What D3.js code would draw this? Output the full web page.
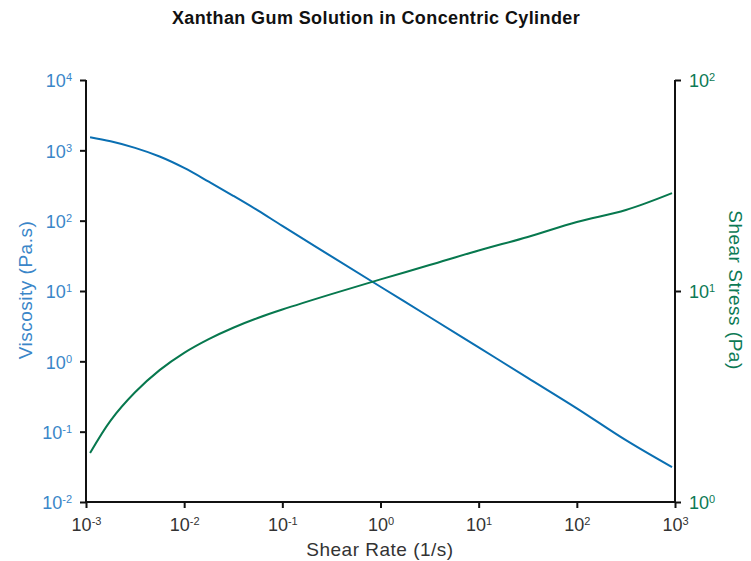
<!DOCTYPE html>
<html><head><meta charset="utf-8">
<script src="https://cdn.jsdelivr.net/npm/d3@7"></script>
<style>body{margin:0;background:#fff}svg{display:block}</style>
</head><body>
<script>
const shearRate = [0.0011, 0.00178, 0.00316, 0.00562, 0.01, 0.0178, 0.0316, 0.0562, 0.1, 0.316, 1, 3.16, 10, 31.6, 100, 316, 933];
const viscosity = [1538, 1343, 1084, 817, 562, 359, 226, 140, 84.1, 31.0, 11.5, 4.27, 1.58, 0.583, 0.215, 0.0757, 0.0313];
const shearStress = [1.706, 2.432, 3.311, 4.217, 5.093, 5.916, 6.699, 7.447, 8.166, 9.661, 11.35, 13.27, 15.56, 18.03, 21.23, 24.21, 29.11];
const xTicks = [-3, -2, -1, 0, 1, 2, 3];
const yLeftTicks = [4, 3, 2, 1, 0, -1, -2];
const yRightTicks = [2, 1, 0];

const W = 751, H = 561;
const m = {l: 86, r: 675, t: 80, b: 502};
const svg = d3.select("body").append("svg").attr("width", W).attr("height", H);
const font = "'Liberation Sans', Arial, sans-serif";
const blueT = "#3a86c8", greenT = "#0c7a55", blueL = "#0a6fb2", greenL = "#07784e";

const x = d3.scaleLog().domain([1e-3, 1e3]).range([m.l, m.r]);
const yL = d3.scaleLog().domain([1e-2, 1e4]).range([m.b, m.t]);
const yR = d3.scaleLog().domain([1, 100]).range([m.b, m.t]);

function supFormat(sel, color) {
  sel.selectAll("text").each(function(d) {
    const e = Math.round(Math.log10(d));
    const t = d3.select(this).text(null).attr("fill", color)
      .style("font-family", font).style("font-size", "18px");
    t.append("tspan").text("10");
    t.append("tspan").attr("dy", "-0.55em").style("font-size", "11px").text(String(e));
  });
}

const gx = svg.append("g").attr("transform", `translate(0,${m.b})`)
  .call(d3.axisBottom(x).tickValues(xTicks.map(e => Math.pow(10, e))).tickSize(6).tickPadding(5));
const gl = svg.append("g").attr("transform", `translate(${m.l},0)`)
  .call(d3.axisLeft(yL).tickValues(yLeftTicks.map(e => Math.pow(10, e))).tickSize(6).tickPadding(8));
const gr = svg.append("g").attr("transform", `translate(${m.r},0)`)
  .call(d3.axisRight(yR).tickValues(yRightTicks.map(e => Math.pow(10, e))).tickSize(6).tickPadding(8));

[gx, gl, gr].forEach(g => {
  g.select(".domain").attr("stroke", "#111").attr("stroke-width", 2);
  g.selectAll(".tick line").attr("stroke", "#111").attr("stroke-width", 2);
});
gx.selectAll(".domain").attr("d", `M${m.l},0H${m.r}`);
gl.selectAll(".domain").attr("d", `M0,${m.t}V${m.b}`);
gr.selectAll(".domain").attr("d", `M0,${m.t}V${m.b}`);
supFormat(gx, "#333");
supFormat(gl, blueT);
supFormat(gr, greenT);
gx.selectAll("text").attr("dy", "1.0em");
gl.selectAll("text").attr("dy", "0.38em");
gr.selectAll("text").attr("dy", "0.38em");

const line = (yS, vals) => d3.line().x((d, i) => x(shearRate[i])).y((d, i) => yS(vals[i])).curve(d3.curveCatmullRom.alpha(0.5))(vals);

svg.append("path").attr("d", line(yL, viscosity)).attr("fill", "none").attr("stroke", blueL).attr("stroke-width", 2);
svg.append("path").attr("d", line(yR, shearStress)).attr("fill", "none").attr("stroke", greenL).attr("stroke-width", 2);

svg.append("text").attr("x", 376).attr("y", 24).attr("text-anchor", "middle")
  .style("font-family", font).style("font-weight", "bold").style("font-size", "18px").style("letter-spacing", "0.4px").attr("fill", "#111")
  .text("Xanthan Gum Solution in Concentric Cylinder");
svg.append("text").attr("x", 380).attr("y", 556).attr("text-anchor", "middle")
  .style("font-family", font).style("font-size", "19px").style("letter-spacing", "0.5px").attr("fill", "#333").text("Shear Rate (1/s)");
svg.append("text").attr("transform", "translate(32,290) rotate(-90)").attr("text-anchor", "middle")
  .style("font-family", font).style("font-size", "19px").style("letter-spacing", "0.5px").attr("fill", blueT).text("Viscosity (Pa.s)");
svg.append("text").attr("transform", "translate(729,290) rotate(90)").attr("text-anchor", "middle")
  .style("font-family", font).style("font-size", "19px").style("letter-spacing", "0.5px").attr("fill", greenT).text("Shear Stress (Pa)");
</script>
</body></html>
